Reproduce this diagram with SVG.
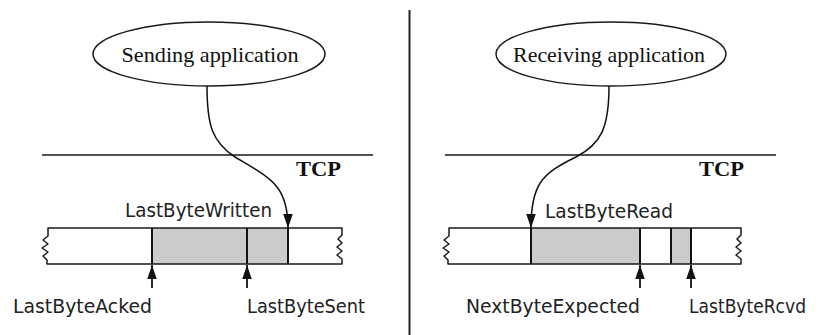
<svg xmlns="http://www.w3.org/2000/svg" width="818" height="335" viewBox="0 0 818 335">
  <style>
    .app { fill: none; stroke: #1a1a1a; stroke-width: 1.5; }
    .app-text { font-family: "Liberation Serif", "Times New Roman", serif; font-size: 21px; fill: #111; }
    .tcp { font-family: "Liberation Serif", "Times New Roman", serif; font-size: 20px; font-weight: bold; fill: #111; }
    .layer { stroke: #1a1a1a; stroke-width: 1.4; }
    .buf { fill: none; stroke: #1a1a1a; stroke-width: 1.5; stroke-linejoin: round; }
    .filled { fill: #cbcbcb; stroke: none; }
    .tick { stroke: #111; stroke-width: 2; }
    .label { font-family: "DejaVu Sans", "Liberation Sans", sans-serif; font-size: 19px; fill: #222; }
    .flow { fill: none; stroke: #111; stroke-width: 1.5; }
    .ptr { stroke: #111; stroke-width: 1.8; }
  </style>
  <defs>
    <marker id="head" viewBox="0 0 10 10" refX="10" refY="5" markerWidth="14" markerHeight="14" markerUnits="userSpaceOnUse" orient="auto">
      <path d="M0,1.6 L10,5 L0,8.4 z" fill="#111"/>
    </marker>
  </defs>

  <rect width="818" height="335" fill="#fff"/>

  <!-- divider between sender and receiver -->
  <line x1="409.5" y1="10" x2="409.5" y2="335" stroke="#222" stroke-width="2"/>

  <!-- ===== Sender side ===== -->
  <g id="sending-app">
    <ellipse class="app" cx="209" cy="54" rx="116" ry="32"/>
    <text class="app-text" x="210" y="62" text-anchor="middle" textLength="177" lengthAdjust="spacingAndGlyphs">Sending application</text>
  </g>

  <g id="sender-tcp">
    <line class="layer" x1="42" y1="155" x2="373" y2="155"/>
    <text class="tcp" x="296" y="176" textLength="45" lengthAdjust="spacingAndGlyphs">TCP</text>
  </g>

  <g id="send-buffer">
    <rect class="filled" x="152" y="228" width="136" height="36"/>
    <path class="buf" d="M342,228 H48 V236 L43,240 L48,244 L42,248 L48,252 L43,256 L47,260 V264 H342 V259 L337,255 L342,251 L337,247 L342,243 L338,239 L342,235 Z"/>
    <line class="tick" x1="152" y1="228" x2="152" y2="264"/>
    <line class="tick" x1="247" y1="228" x2="247" y2="264"/>
    <line class="tick" x1="288" y1="228" x2="288" y2="264"/>
    <text class="label" x="125" y="217" textLength="147" lengthAdjust="spacingAndGlyphs">LastByteWritten</text>
    <text class="label" x="13" y="313" textLength="139" lengthAdjust="spacingAndGlyphs">LastByteAcked</text>
    <text class="label" x="247" y="313" textLength="118" lengthAdjust="spacingAndGlyphs">LastByteSent</text>
  </g>

  <!-- ===== Receiver side ===== -->
  <g id="receiving-app">
    <ellipse class="app" cx="611" cy="54" rx="115" ry="32"/>
    <text class="app-text" x="609" y="62" text-anchor="middle" textLength="192" lengthAdjust="spacingAndGlyphs">Receiving application</text>
  </g>

  <g id="receiver-tcp">
    <line class="layer" x1="445" y1="155" x2="776" y2="155"/>
    <text class="tcp" x="699" y="176" textLength="45" lengthAdjust="spacingAndGlyphs">TCP</text>
  </g>

  <g id="recv-buffer">
    <rect class="filled" x="531" y="228" width="109" height="36"/>
    <rect class="filled" x="671" y="228" width="20" height="36"/>
    <path class="buf" d="M741,228 H449 V236 L444,240 L449,244 L443,248 L449,252 L444,256 L448,260 V264 H741 V259 L736,255 L741,251 L736,247 L741,243 L737,239 L741,235 Z"/>
    <line class="tick" x1="531" y1="228" x2="531" y2="264"/>
    <line class="tick" x1="640" y1="228" x2="640" y2="264"/>
    <line class="tick" x1="671" y1="228" x2="671" y2="264"/>
    <line class="tick" x1="691" y1="228" x2="691" y2="264"/>
    <text class="label" x="545" y="218" textLength="128" lengthAdjust="spacingAndGlyphs">LastByteRead</text>
    <text class="label" x="466" y="313" textLength="174" lengthAdjust="spacingAndGlyphs">NextByteExpected</text>
    <text class="label" x="689" y="313" textLength="117" lengthAdjust="spacingAndGlyphs">LastByteRcvd</text>
  </g>

  <!-- data flow and buffer pointers -->
  <g id="connectors">
    <path class="flow" d="M207,86 C207,125 212,142 235,157 C270,178 288,185 288,228" marker-end="url(#head)"/>
    <path class="flow" d="M609,86 C609,128 601,144 576,157 C541,174 531,185 531,228" marker-end="url(#head)"/>
    <line class="ptr" x1="152" y1="288" x2="152" y2="265" marker-end="url(#head)"/>
    <line class="ptr" x1="247" y1="288" x2="247" y2="265" marker-end="url(#head)"/>
    <line class="ptr" x1="640" y1="288" x2="640" y2="265" marker-end="url(#head)"/>
    <line class="ptr" x1="691" y1="288" x2="691" y2="265" marker-end="url(#head)"/>
  </g>
</svg>
